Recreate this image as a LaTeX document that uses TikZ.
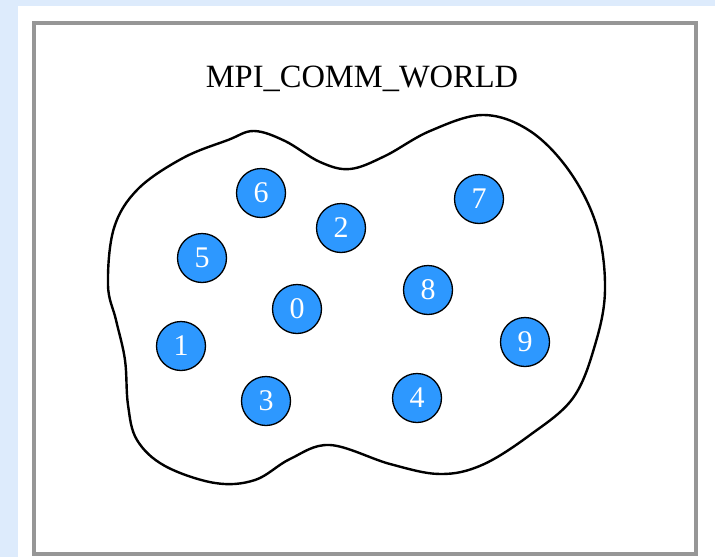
\documentclass[tikz,border=0pt]{standalone}
\usepackage{fontspec}
\setmainfont{Liberation Serif}
\definecolor{bgblue}{RGB}{221,235,252}
\definecolor{procblue}{RGB}{45,152,255}
\definecolor{boxgray}{RGB}{150,150,150}
\begin{document}
\begin{tikzpicture}[x=1pt,y=-1pt,
  proc/.style={circle,draw=black,line width=1.3pt,fill=procblue,text=white,
    minimum size=49pt,inner sep=0pt,font=\fontsize{30}{31}\selectfont},
  title/.style={anchor=base,font=\fontsize{32.5}{36}\selectfont},
  blob/.style={draw=black,line width=2.4pt,line join=round}]
\useasboundingbox (0,0) rectangle (715,557);
\fill[bgblue] (0,0) rectangle (715,557);
\fill[white] (18,6) rectangle (715,557);
\draw[boxgray,line width=4pt] (34,23) rectangle (696,554);
\node[title] (t) at (362,87) {MPI\_COMM\_WORLD};
\draw[blob] plot[smooth cycle,tension=0.6] coordinates {
 (108,285) (114,228) (138,189) (183,158) (228,140) (254,131)
 (285,141) (320,162) (350,169) (385,156) (430,131) (483,115)
 (530,131) (570,172) (597,227) (605,290) (595,345) (573,398)
 (530,435) (482,465) (440,474) (390,464) (330,445) (290,459)
 (255,480) (215,483) (165,466) (137,440) (128,405) (125,360) (116,320)};
\node[proc] (p6) at (261,193) {6};
\node[proc] (p2) at (341,228) {2};
\node[proc] (p5) at (202,258) {5};
\node[proc] (p0) at (297,309) {0};
\node[proc] (p1) at (181,346) {1};
\node[proc] (p3) at (266,401) {3};
\node[proc] (p7) at (479,199) {7};
\node[proc] (p8) at (428,290) {8};
\node[proc] (p9) at (525,342) {9};
\node[proc] (p4) at (417,398) {4};
\end{tikzpicture}
\end{document}
